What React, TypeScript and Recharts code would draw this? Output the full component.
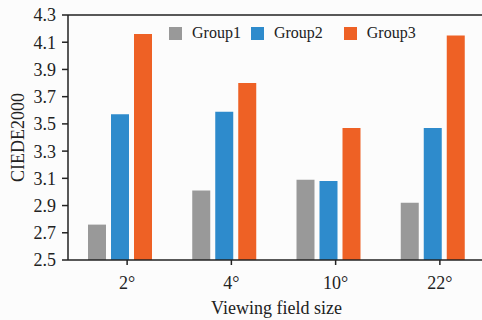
import React from "react"
import { BarChart, Bar, XAxis, YAxis, ReferenceLine } from "recharts"

const categories = ["2°", "4°", "10°", "22°"]
const group1 = [2.76, 3.01, 3.09, 2.92]
const group2 = [3.57, 3.59, 3.08, 3.47]
const group3 = [4.16, 3.8, 3.47, 4.15]
const yTicks = [2.5, 2.7, 2.9, 3.1, 3.3, 3.5, 3.7, 3.9, 4.1, 4.3]

const seriesNames = ["Group1", "Group2", "Group3"]
const colors = ["#999999", "#2e8bcc", "#ee6125"]

const data = categories.map((c, i) => ({
  name: c,
  Group1: group1[i],
  Group2: group2[i],
  Group3: group3[i],
}))

const font = '"Liberation Serif", "Times New Roman", serif'
const ink = "#222"

function XTick(props: any) {
  const { x, y, payload } = props
  const tx = x + 7
  return (
    <g>
      <line x1={tx} y1={y} x2={tx} y2={y + 5} stroke={ink} strokeWidth={1.5} />
      <text x={tx} y={y + 29} textAnchor="middle" fontSize={18} fill={ink} style={{ fontFamily: font }}>
        {payload.value}
      </text>
    </g>
  )
}

// legend drawn as an overlay so it doesn't eat into the plot area
function LegendBox() {
  const gaps = [10, 21, 0]
  return (
    <div
      style={{
        position: "absolute", top: 24, left: 169,
        display: "flex", alignItems: "center",
        fontFamily: font, fontSize: 16, color: ink, whiteSpace: "nowrap",
      }}
    >
      {seriesNames.map((s, i) => (
        <div key={s} style={{ display: "flex", alignItems: "center", marginRight: gaps[i] }}>
          <span style={{ width: 13, height: 13, background: colors[i], display: "inline-block", marginRight: 10 }} />
          <span>{s}</span>
        </div>
      ))}
    </div>
  )
}

export default function App() {
  return (
    <div style={{ position: "fixed", left: 0, top: 0, width: 482, height: 320, overflow: "hidden", background: "#fcfcfc", fontFamily: font }}>
      <BarChart
        width={490}
        height={320}
        data={data}
        margin={{ top: 15, right: 5, left: 0, bottom: 0 }}
        barSize={18}
        barGap={5}
        style={{ fontFamily: font }}
      >
        <XAxis
          dataKey="name"
          height={60}
          axisLine={{ stroke: ink, strokeWidth: 1.5 }}
          tickLine={false}
          tickSize={0}
          tickMargin={0}
          tick={<XTick />}
          interval={0}
          label={{ value: "Viewing field size", position: "insideBottom", offset: 6, fontSize: 18, fill: ink, style: { fontFamily: font } }}
        />
        <YAxis
          width={68}
          domain={[2.5, 4.3]}
          ticks={yTicks}
          interval={0}
          allowDataOverflow
          axisLine={{ stroke: ink, strokeWidth: 1.5 }}
          tickLine={{ stroke: ink, strokeWidth: 1.5 }}
          tickSize={6}
          tickMargin={6}
          tickFormatter={(v: number) => v.toFixed(1)}
          tick={{ fontSize: 18, fill: ink, style: { fontFamily: font } }}
          label={{ value: "CIEDE2000", angle: -90, position: "insideLeft", offset: 18, fontSize: 18, fill: ink, style: { textAnchor: "middle", fontFamily: font } }}
        />
        <ReferenceLine y={4.3} stroke={ink} strokeWidth={1.5} />
        {seriesNames.map((s, i) => (
          <Bar key={s} dataKey={s} fill={colors[i]} isAnimationActive={false} />
        ))}
      </BarChart>
      <LegendBox />
    </div>
  )
}
